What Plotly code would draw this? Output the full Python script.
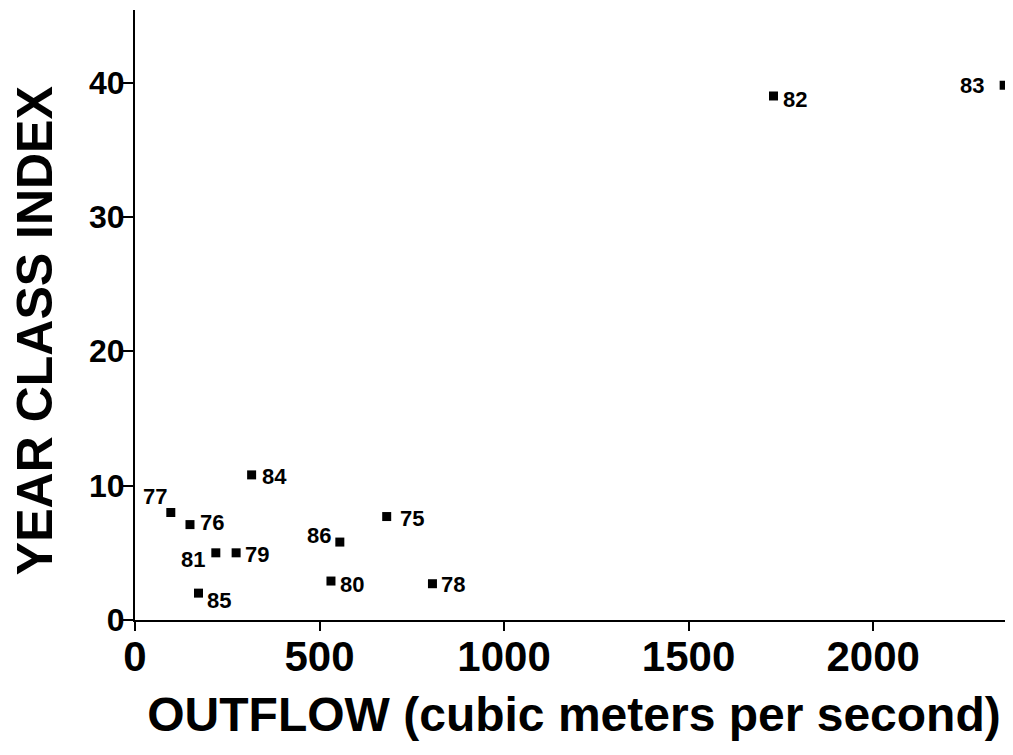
import plotly.graph_objects as go

# ── Data ────────────────────────────────────────────────────────────────────
years    = ["75", "76", "77", "78", "79", "80", "81", "82", "83", "84", "85", "86"]
outflow  = [682, 149, 97, 806, 274, 531, 219, 1730, 2355, 316, 172, 555]
yc_index = [7.7, 7.1, 8.0, 2.7, 5.0, 2.9, 5.0, 39.0, 39.8, 10.8, 2.0, 5.8]

x_ticks = [0, 500, 1000, 1500, 2000]
y_ticks = [0, 10, 20, 30, 40]

# label offsets from each marker, in pixels (style only: dx right, dy down)
label_dx = [25, 22, -16, 21, 21, 21, -23, 22, -32, 23, 21, -21]
label_dy = [2, -2, -16, 1, 2, 3, 7, 4, 0, 2, 7, -7]

FONT = "Liberation Sans, Arial, sans-serif"

fig = go.Figure(go.Scatter(
    x=outflow,
    y=yc_index,
    mode="markers",
    marker=dict(symbol="square", size=9, color="black"),
    cliponaxis=False,
    showlegend=False,
))

for yr, xv, yv, dx, dy in zip(years, outflow, yc_index, label_dx, label_dy):
    fig.add_annotation(
        x=xv, y=yv, text=yr, showarrow=False,
        xshift=dx, yshift=-dy,
        font=dict(family=FONT, size=22, color="black", weight="bold"),
    )

# y title as a rotated annotation, sits a little below the plot's middle
fig.add_annotation(
    text="YEAR CLASS INDEX", textangle=-90, showarrow=False,
    xref="paper", yref="paper", x=-0.114, y=0.475,
    xanchor="center", yanchor="middle",
    font=dict(family=FONT, size=50, color="black", weight="bold"),
)

# page body has an 8px margin, so the figure is a bit smaller than the window
fig.update_layout(
    width=1005, height=747,
    paper_bgcolor="white", plot_bgcolor="white",
    margin=dict(l=127, r=0, t=2, b=135),
    font=dict(family=FONT, color="black"),
)

fig.update_xaxes(
    range=[0, 2379],
    tickvals=x_ticks,
    ticks="outside", ticklen=9, tickwidth=2, tickcolor="black",
    tickfont=dict(size=42, weight="bold"),
    ticklabelstandoff=-10,
    showline=True, linecolor="black", linewidth=2,
    showgrid=False, zeroline=False,
    title=dict(text="OUTFLOW (cubic meters per second)",
               font=dict(size=48, weight="bold"), standoff=18),
)
fig.update_yaxes(
    range=[0, 45.4],
    tickvals=y_ticks,
    ticks="outside", ticklen=10, tickwidth=2, tickcolor="black",
    tickfont=dict(size=32, weight="bold"),
    ticklabelstandoff=-8,
    showline=True, linecolor="black", linewidth=2,
    showgrid=False, zeroline=False,
)

fig.write_html("out.html")
